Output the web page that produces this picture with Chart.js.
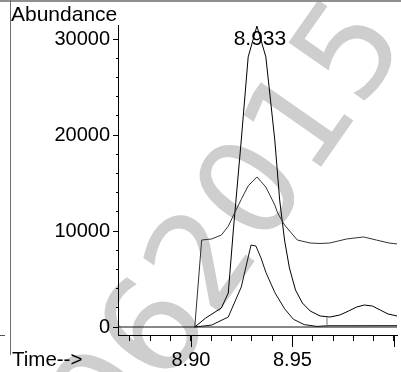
<!DOCTYPE html>
<html>
<head>
<meta charset="utf-8">
<script src="https://cdn.jsdelivr.net/npm/chart.js@4"></script>
<style>
  html, body { margin: 0; padding: 0; background: #fff; }
  #wrap { position: relative; width: 401px; height: 372px; overflow: hidden; }
  #frameTop { position: absolute; left: 0; top: 0; width: 401px; height: 2px; background: #8f8f8f; }
  #frameLeft { position: absolute; left: 10px; top: 0; width: 1px; height: 355px; background: #6f6f6f; }
  #frameDash { position: absolute; left: 0; top: 335px; width: 5px; height: 1px; background: #555; }
</style>
</head>
<body>
<div id="wrap">
  <canvas id="chart" width="401" height="372"></canvas>
  <div id="frameTop"></div>
  <div id="frameLeft"></div>
  <div id="frameDash"></div>
</div>
<script>
// tall peak trace
const tallTimes = [8.9019, 8.9073, 8.9150, 8.9184, 8.9209, 8.9248, 8.9282, 8.9325, 8.9369, 8.9413, 8.9437, 8.9461, 8.9485,
    8.9515, 8.9549, 8.9587, 8.9636, 8.9684, 8.9733, 8.9777, 8.9816, 8.9854, 8.9893, 8.9932, 8.9971, 9.0015];
const tallValues = [0, 940, 1980, 3540, 10100, 19480, 28130, 31350, 28130, 19480, 13230, 9060, 6150,
    3850, 2500, 1670, 1150, 1040, 1250, 1670, 2080, 2290, 2190, 1770, 1350, 1150];

// broad trace with the step
const broadTimes = [8.9019, 8.9053, 8.9102, 8.9150, 8.9184, 8.9218, 8.9248, 8.9282, 8.9325, 8.9369, 8.9413, 8.9427,
    8.9461, 8.9524, 8.9587, 8.9636, 8.9684, 8.9767, 8.9850, 8.9913, 8.9976, 9.0015];
const broadValues = [0, 9060, 9170, 9580, 10500, 12000, 13300, 14700, 15630, 14580, 12710, 11880,
    10630, 9060, 8750, 8700, 8750, 9170, 9380, 9060, 8750, 8650];

// small peak trace
const smallTimes = [8.9019, 8.9102, 8.9184, 8.9248, 8.9296, 8.9320, 8.9345, 8.9369, 8.9413, 8.9461, 8.9505,
    8.9558, 8.9621, 8.9670, 9.0015];
const smallValues = [0, 200, 1040, 4170, 8540, 8440, 7200, 5700, 3600, 1900, 800,
    250, 60, 130, 140];

// zero line and integration drop line
const baseTimes = [8.8641, 9.0015];
const baseValues = [0, 0];
const dropTimes = [8.9670, 8.9670];
const dropValues = [0, 1040];

// axes
const xMin = 8.8641, xMax = 9.0015;
const yMin = -833, yMax = 31460;
const xMinorStep = 0.01, yMinorStep = 2000;
const xMajorTicks = [8.90, 8.95, 9.00];
const xLabelTicks = [8.90, 8.95];
const yLabelTicks = [0, 10000, 20000, 30000];

const peakLabel = '8.933';
const peakTime = 8.9325;
const peakValue = 31350;

const FONT = '"Liberation Sans", Arial, sans-serif';
Chart.defaults.font.family = FONT;
Chart.defaults.color = '#000';

function toXY(ts, vs) {
    return ts.map((t, i) => ({ x: t, y: vs[i] }));
}

function near(list, v, eps) {
    return list.some(t => Math.abs(t - v) < eps);
}

// tick positions at every minor step inside the axis range
function stepTicks(min, max, step) {
    const out = [];
    for (let k = Math.ceil(min / step - 1e-9); k * step <= max + 1e-9; k++) {
        out.push({ value: Math.round(k * step * 1e6) / 1e6 });
    }
    return out;
}

const decorate = {
    id: 'decorate',
    beforeDraw(chart) {
        // faint diagonal watermark
        const ctx = chart.ctx;
        ctx.save();
        ctx.translate(234, 230);
        ctx.rotate(-55 * Math.PI / 180);
        ctx.font = '134px "DejaVu Sans"';
        ctx.fillStyle = '#cecece';
        ctx.textAlign = 'center';
        ctx.textBaseline = 'middle';
        ctx.fillText('062015', 0, 0);
        ctx.restore();
    },
    afterDraw(chart) {
        const { ctx, scales: { x, y } } = chart;
        ctx.save();
        ctx.strokeStyle = '#000';
        ctx.lineWidth = 1;
        // longer major ticks
        xMajorTicks.forEach(t => {
            const px = Math.round(x.getPixelForValue(t)) + 0.5;
            ctx.beginPath();
            ctx.moveTo(px, x.top);
            ctx.lineTo(px, x.top + 12);
            ctx.stroke();
        });
        yLabelTicks.forEach(v => {
            const py = Math.round(y.getPixelForValue(v)) + 0.5;
            ctx.beginPath();
            ctx.moveTo(y.right - 5, py);
            ctx.lineTo(y.right, py);
            ctx.stroke();
        });

        ctx.fillStyle = '#000';
        ctx.textBaseline = 'alphabetic';
        ctx.textAlign = 'left';
        ctx.font = '21px ' + FONT;
        ctx.fillText('Abundance', 11, 21);
        ctx.font = '20.5px ' + FONT;
        ctx.fillText('Time-->', 12, 366);

        ctx.font = '21px ' + FONT;
        ctx.textAlign = 'center';
        ctx.fillText(peakLabel, x.getPixelForValue(peakTime) + 3, y.getPixelForValue(peakValue) + 19);
        ctx.restore();
    }
};

const lineStyle = {
    borderWidth: 1,
    pointRadius: 0,
    tension: 0,
    fill: false
};

new Chart(document.getElementById('chart'), {
    type: 'line',
    data: {
        datasets: [
            { label: 'base', data: toXY(baseTimes, baseValues), borderColor: '#111', ...lineStyle },
            { label: 'drop', data: toXY(dropTimes, dropValues), borderColor: '#777', ...lineStyle },
            { label: 'small', data: toXY(smallTimes, smallValues), borderColor: '#111', ...lineStyle },
            { label: 'broad', data: toXY(broadTimes, broadValues), borderColor: '#333', ...lineStyle },
            { label: 'tall', data: toXY(tallTimes, tallValues), borderColor: '#000', ...lineStyle }
        ]
    },
    options: {
        responsive: false,
        animation: false,
        events: [],
        layout: { padding: { top: 25, right: 0, left: 0, bottom: 0 } },
        plugins: {
            legend: { display: false },
            tooltip: { enabled: false }
        },
        scales: {
            x: {
                type: 'linear',
                min: xMin,
                max: xMax,
                afterBuildTicks: s => { s.ticks = stepTicks(xMin, xMax, xMinorStep); },
                afterFit: s => { s.height = 37; },
                border: { display: true, color: '#000', width: 1 },
                grid: { drawOnChartArea: false, drawTicks: true, tickLength: 6, color: '#000' },
                ticks: {
                    autoSkip: false,
                    maxRotation: 0,
                    padding: 7,
                    font: { size: 20 },
                    color: '#000',
                    callback: v => near(xLabelTicks, v, 1e-6) ? v.toFixed(2) : ''
                }
            },
            y: {
                min: yMin,
                max: yMax,
                afterBuildTicks: s => { s.ticks = stepTicks(yMin, yMax, yMinorStep); },
                afterFit: s => { s.width = 118; },
                border: { display: true, color: '#000', width: 1 },
                grid: { drawOnChartArea: false, drawTicks: true, tickLength: 2, color: '#000' },
                ticks: {
                    autoSkip: false,
                    padding: 6,
                    font: { size: 20 },
                    color: '#000',
                    callback: v => near(yLabelTicks, v, 1e-6) ? String(v) : ''
                }
            }
        }
    },
    plugins: [decorate]
});
</script>
</body>
</html>
